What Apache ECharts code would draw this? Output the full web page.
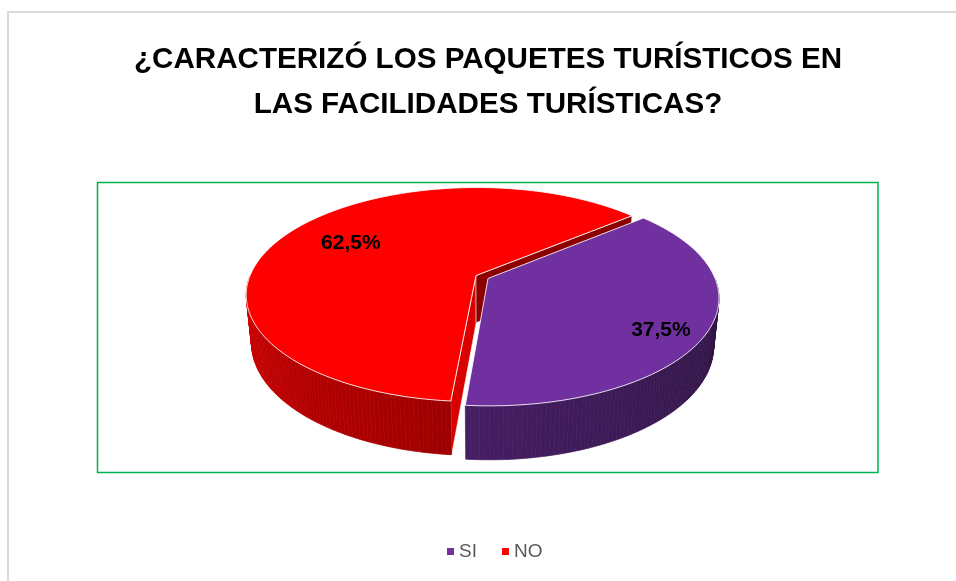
<!DOCTYPE html>
<html>
<head>
<meta charset="utf-8">
<script src="https://cdn.jsdelivr.net/npm/echarts@6/dist/echarts.min.js"></script>
<style>
  html, body { margin: 0; padding: 0; background: #fff; }
  #main { width: 956px; height: 581px; }
</style>
</head>
<body>
<div id="main"></div>
<script>
// datos
const categories = ['SI', 'NO'];
const values = [37.5, 62.5];
const colors = ['#7030A0', '#FF0000'];
const titleText = '¿CARACTERIZÓ LOS PAQUETES TURÍSTICOS EN\nLAS FACILIDADES TURÍSTICAS?';

// vista 3D, ajustada a ojo para imitar el pastel 3D de Excel
const CX = 482, CY = 277;
const SIN_T = 0.46, COS_T = 0.888, DIST = 4.99, FOC = 1130;
const THICK = 0.24, EXPLODE = 0.03, START_ANGLE = 50;
// posicion de etiquetas (radio sobre la bisectriz, ajuste vertical en px)
const LABEL_R = [0.8, 0.66], LABEL_DY = [10, -2];

const total = values.reduce((a, b) => a + b, 0);
const slices = [];
let acc = START_ANGLE;
values.forEach(v => {
  const span = v / total * 360;
  slices.push({ a: acc, b: acc + span });
  acc += span;
});

function rad(d) { return d * Math.PI / 180; }

function project(u, v, h) {
  const y = v * SIN_T - h * COS_T;
  const z = DIST - v * COS_T - h * SIN_T;
  return [CX + FOC * u / z, CY + FOC * y / z];
}
function rimPoint(deg, off, h) {
  return project(off[0] + Math.sin(rad(deg)), off[1] - Math.cos(rad(deg)), h);
}
function shade(hex, f) {
  const n = parseInt(hex.slice(1), 16);
  const r = Math.round(((n >> 16) & 255) * f);
  const g = Math.round(((n >> 8) & 255) * f);
  const b = Math.round((n & 255) * f);
  return 'rgb(' + r + ',' + g + ',' + b + ')';
}
function area(pts) {
  let s = 0;
  for (let i = 0; i < pts.length; i++) {
    const p = pts[i], q = pts[(i + 1) % pts.length];
    s += p[0] * q[1] - q[0] * p[1];
  }
  return s;
}
function angleSteps(a, b) {
  const out = [a];
  for (let d = Math.floor(a) + 1; d < b; d++) out.push(d);
  out.push(b);
  return out;
}

function renderSlice(idx) {
  return function (params, api) {
    const s = slices[idx], col = colors[idx];
    const mid = (s.a + s.b) / 2;
    const off = [EXPLODE * Math.sin(rad(mid)), -EXPLODE * Math.cos(rad(mid))];
    const children = [];

    // paredes radiales (solo las que miran a la camara)
    [[s.a, -1, 0.85], [s.b, 1, 0.55]].forEach(w => {
      const pts = [
        project(off[0], off[1], 0),
        rimPoint(w[0], off, 0),
        rimPoint(w[0], off, -THICK),
        project(off[0], off[1], -THICK)
      ];
      if (area(pts) * w[1] > 0) {
        children.push({ type: 'polygon', z2: 1, shape: { points: pts },
          style: { fill: shade(col, w[2]), stroke: 'rgba(255,255,255,0.6)', lineWidth: 0.8 } });
      }
    });

    // pared curva delantera
    const steps = angleSteps(s.a, s.b);
    for (let i = 0; i < steps.length - 1; i++) {
      const d0 = steps[i], d1 = steps[i + 1];
      const m = ((d0 + d1) / 2) % 360;
      if (m < 90 || m > 270) continue;
      const f = 0.4 + (m - 90) / 180 * 0.42;
      const c = shade(col, f);
      children.push({ type: 'polygon', z2: 2,
        shape: { points: [rimPoint(d0, off, 0), rimPoint(d1, off, 0), rimPoint(d1, off, -THICK), rimPoint(d0, off, -THICK)] },
        style: { fill: c, stroke: c, lineWidth: 0.7 } });
    }

    // cara superior
    const top = [project(off[0], off[1], 0)];
    steps.forEach(d => top.push(rimPoint(d, off, 0)));
    children.push({ type: 'polygon', z2: 10, shape: { points: top },
      style: { fill: col, stroke: 'rgba(255,255,255,0.85)', lineWidth: 1 } });

    // etiqueta
    const r = LABEL_R[idx];
    const lp = project(off[0] + r * Math.sin(rad(mid)), off[1] - r * Math.cos(rad(mid)), 0);
    const pct = (values[idx] / total * 100).toFixed(1).replace('.', ',') + '%';
    children.push({ type: 'text', z2: 20, x: lp[0], y: lp[1] + LABEL_DY[idx],
      style: { text: pct, fill: '#000', font: 'bold 21px "Liberation Sans", Arial, sans-serif',
        align: 'center', verticalAlign: 'middle' } });

    return { type: 'group', children: children };
  };
}

const chart = echarts.init(document.getElementById('main'));
const option = {
  animation: false,
  title: {
    text: titleText,
    left: 483,
    top: 32,
    textAlign: 'center',
    textStyle: {
      fontFamily: '"Liberation Sans", Arial, sans-serif',
      fontSize: 29.6,
      fontWeight: 'bold',
      color: '#000',
      lineHeight: 45
    }
  },
  legend: {
    data: categories,
    left: 442,
    top: 537,
    icon: 'rect',
    itemWidth: 7,
    itemHeight: 7,
    itemGap: 25,
    textStyle: { color: '#595959', fontSize: 19, fontFamily: '"Liberation Sans", Arial, sans-serif' }
  },
  graphic: [
    { type: 'rect', z: -10, shape: { x: 8, y: 12, width: 1000, height: 700 },
      style: { fill: 'none', stroke: '#D9D9D9', lineWidth: 2 } },
    { type: 'rect', z: -9, shape: { x: 97.5, y: 182.5, width: 780.5, height: 290 },
      style: { fill: 'none', stroke: '#00B050', lineWidth: 1.5 } }
  ],
  series: categories.map((name, i) => ({
    type: 'custom',
    name: name,
    coordinateSystem: 'none',
    color: colors[i],
    itemStyle: { color: colors[i] },
    data: [values[i]],
    renderItem: renderSlice(i)
  }))
};
chart.setOption(option);
</script>
</body>
</html>
